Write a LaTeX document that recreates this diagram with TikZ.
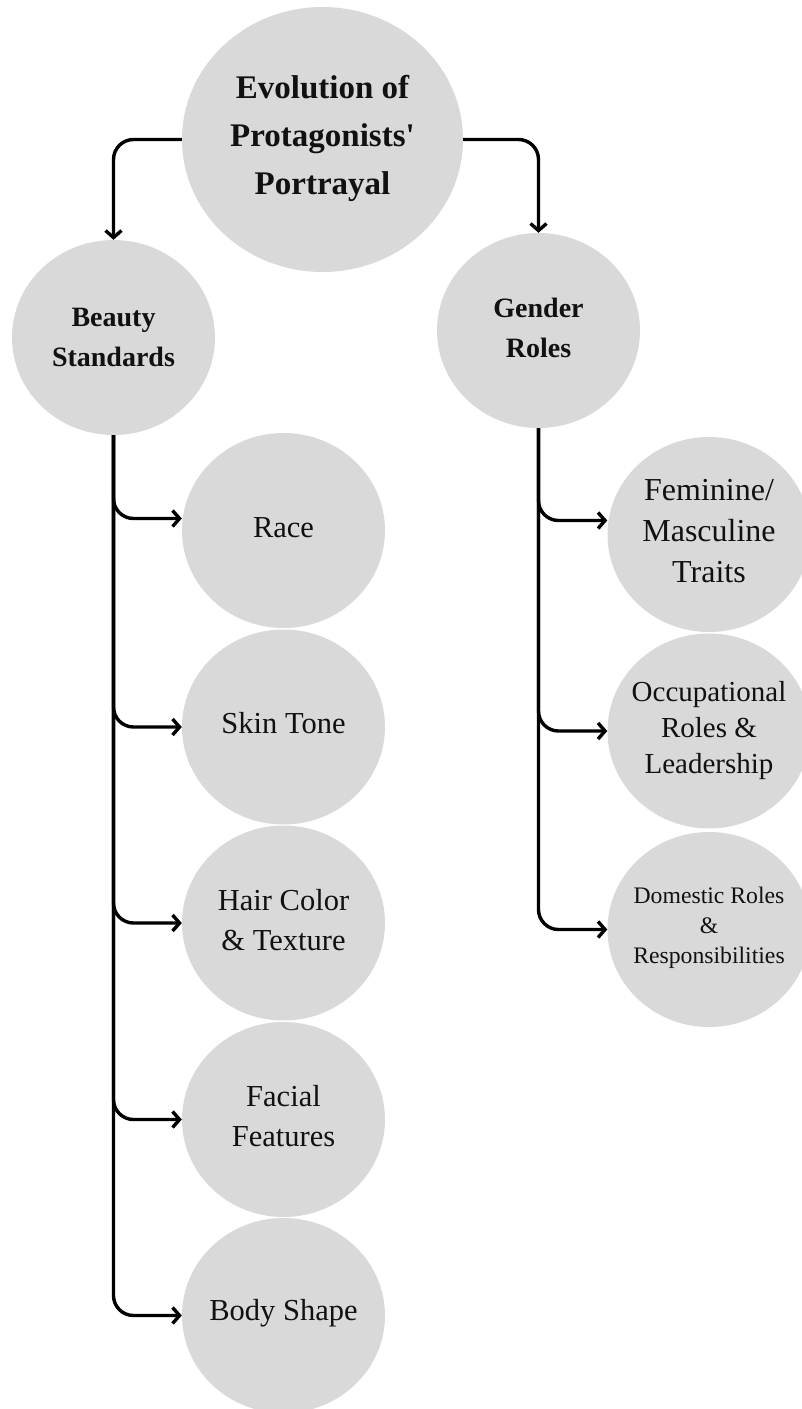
\documentclass[tikz,border=0pt]{standalone}
\usepackage{fontspec}
\setmainfont{Liberation Serif}
\usetikzlibrary{shapes.geometric,arrows.meta}
\definecolor{bubfill}{HTML}{D9D9D9}
\definecolor{inktext}{HTML}{111111}
\tikzset{
  bub/.style={ellipse, fill=bubfill, draw=none, inner sep=0pt, minimum width=203pt, minimum height=195pt},
  bigbub/.style={bub, minimum width=281pt, minimum height=265pt},
  txt/.style={align=center, text=inktext, inner sep=0pt},
  conn/.style={line width=3.4pt, rounded corners=20pt, draw=black,
    -{Straight Barb[length=7pt,width=16pt]}},
}
\newcommand{\fsz}[2]{\fontsize{#1}{#2}\selectfont}
\begin{document}
\begin{tikzpicture}[x=1pt,y=-1pt]
\useasboundingbox (0,0) rectangle (801,1409);
% bubbles
\node[bigbub] (top) at (322.5,139.5) {};
\node[bub] (beauty) at (113.5,337.5) {};
\node[bub] (gender) at (538.5,330.5) {};
\node[bub] (race) at (283.5,530.5) {};
\node[bub] (skin) at (283.5,727) {};
\node[bub] (hair) at (283.5,923) {};
\node[bub] (facial) at (283.5,1119.5) {};
\node[bub] (body) at (283.5,1315.5) {};
\node[bub] (fem) at (709,534.5) {};
\node[bub] (occ) at (709,731) {};
\node[bub] (dom) at (709,929.5) {};
% texts
\node[txt, font=\fsz{33}{48}\bfseries] (topT) at (322.5,138) {Evolution of\\Protagonists\textquotesingle\\Portrayal};
\node[txt, font=\fsz{28}{40}\bfseries] (beautyT) at (113.5,337) {Beauty\\Standards};
\node[txt, font=\fsz{28}{40}\bfseries] (genderT) at (538.5,328) {Gender\\Roles};
\node[txt, font=\fsz{30.5}{40}] (raceT) at (283.5,528) {Race};
\node[txt, font=\fsz{30.5}{40}] (skinT) at (283.5,723) {Skin Tone};
\node[txt, font=\fsz{30.5}{40}] (hairT) at (283.5,920) {Hair Color\\\& Texture};
\node[txt, font=\fsz{30.5}{40}] (facialT) at (283.5,1116) {Facial\\Features};
\node[txt, font=\fsz{30.5}{40}] (bodyT) at (283.5,1313) {Body Shape};
\node[txt, font=\fsz{32}{41}] (femT) at (709,531) {Feminine/\\Masculine\\Traits};
\node[txt, font=\fsz{29}{36}] (occT) at (709,731) {Occupational\\Roles \&\\Leadership};
\node[txt, font=\fsz{23.7}{30}] (domT) at (709,928) {Domestic Roles\\\&\\Responsibilities};
% connectors
\draw[conn] (top.west) -| (beauty.north);
\draw[conn] (top.east) -| (gender.north);
\draw[conn] (beauty.south) |- ([yshift=12pt]race.west);
\draw[conn] (beauty.south) |- (skin.west);
\draw[conn] (beauty.south) |- (hair.west);
\draw[conn] (beauty.south) |- (facial.west);
\draw[conn] (beauty.south) |- (body.west);
\draw[conn] (gender.south) |- ([yshift=14pt]fem.west);
\draw[conn] (gender.south) |- (occ.west);
\draw[conn] (gender.south) |- (dom.west);
\end{tikzpicture}
\end{document}
